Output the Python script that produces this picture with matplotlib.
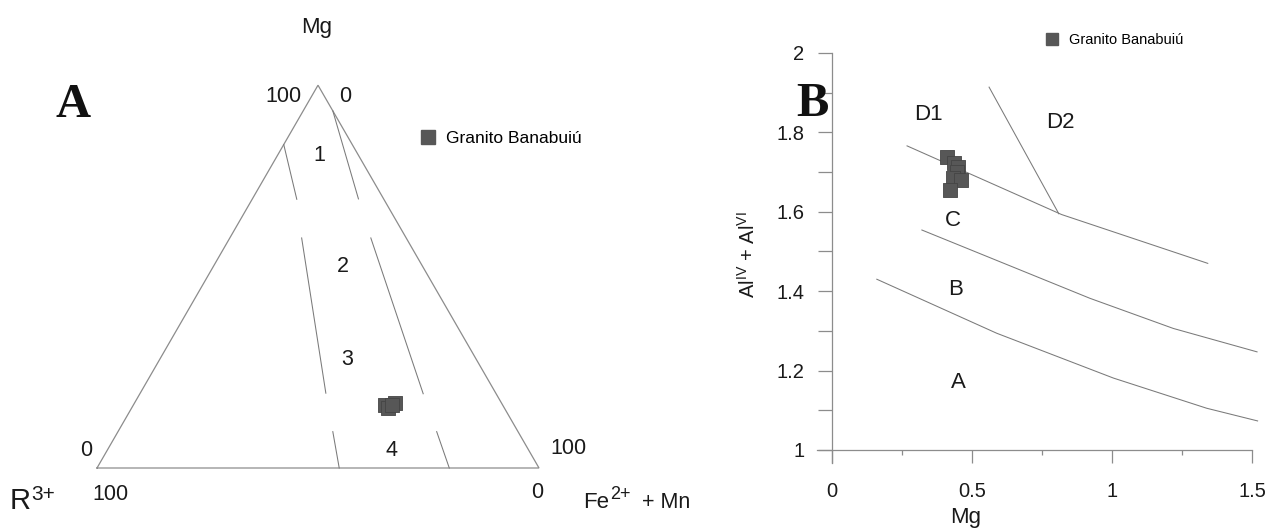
import numpy as np
import matplotlib
matplotlib.use('Agg')
import matplotlib.pyplot as plt
from matplotlib.lines import Line2D

plt.rcParams['font.family'] = ['Liberation Sans', 'DejaVu Sans']
plt.rcParams['mathtext.fontset'] = 'custom'
plt.rcParams['mathtext.rm'] = 'Liberation Sans'
plt.rcParams['mathtext.it'] = 'Liberation Sans:italic'
plt.rcParams['mathtext.bf'] = 'Liberation Sans:bold'

# ---------------- data: ternary (A) ----------------
series_name = 'Granito Banabuiú'
tern_mg = [16.5, 17.0, 15.7, 16.5]      # Mg (%)
tern_fe = [56.9, 58.9, 58.0, 58.5]      # Fe2+ + Mn (%)
tern_r3 = [26.6, 24.1, 26.3, 25.0]      # R3+ (%)

# field boundary segments (start Mg/Fe -> end Mg/Fe), in %
bnd_mg0 = [84.5, 60.1, 9.5, 93.3, 60.1, 9.5]
bnd_fe0 = [0.0, 16.25, 48.6, 6.7, 31.9, 72.1]
bnd_mg1 = [70.2, 19.55, 0.0, 70.3, 19.4, 0.0]
bnd_fe1 = [10.1, 42.0, 54.8, 24.0, 64.1, 79.7]

field_labels = ['1', '2', '3', '4']
field_mg = [81.7, 52.6, 28.3, 4.45]
field_fe = [9.4, 29.4, 42.4, 64.5]

# ---------------- data: Al vs Mg (B) ----------------
b_mg = [0.41, 0.435, 0.45, 0.445, 0.432, 0.462, 0.421]
b_al = [1.737, 1.723, 1.712, 1.700, 1.685, 1.680, 1.655]

ab_mg = [0.16, 0.588, 1.005, 1.338, 1.52]
ab_al = [1.43, 1.294, 1.181, 1.105, 1.073]
bc_mg = [0.321, 0.921, 1.219, 1.518]
bc_al = [1.554, 1.382, 1.306, 1.247]
cd_mg = [0.268, 0.82, 1.342]
cd_al = [1.766, 1.593, 1.470]
dd_mg = [0.561, 0.81]
dd_al = [1.914, 1.595]

zone_labels = ['D1', 'D2', 'C', 'B', 'A']
zone_mg = [0.343, 0.814, 0.432, 0.443, 0.45]
zone_al = [1.844, 1.826, 1.579, 1.403, 1.169]

x_ticks = [0, 0.5, 1, 1.5]
x_ticklabels = ['0', '0.5', '1', '1.5']
y_ticks = [1, 1.2, 1.4, 1.6, 1.8, 2]
y_ticklabels = ['1', '1.2', '1.4', '1.6', '1.8', '2']

W, H = 1270, 531
fig = plt.figure(figsize=(W / 100, H / 100), dpi=100)

MARK_FC = '#575757'
MARK_EC = '#454545'
LINE_C = '#7a7a7a'


def tern_xy(mg, fe):
    mg = np.asarray(mg, float) / 100.0
    fe = np.asarray(fe, float) / 100.0
    return fe + mg / 2.0, mg * np.sqrt(3) / 2.0


# ---------------- left ternary ----------------
axL = fig.add_axes([0, 0, 760 / W, 1])
axL.set_xlim(-97 / 442, 663 / 442)
axL.set_ylim(-63 / 442, 468 / 442)
axL.axis('off')


def px(x, y):
    return (x - 97) / 442, (468 - y) / 442


vx, vy = tern_xy([0, 0, 100, 0], [0, 100, 0, 0])
axL.plot(vx, vy, color='#8c8c8c', lw=0.9, solid_joinstyle='miter')

for m0, f0, m1, f1 in zip(bnd_mg0, bnd_fe0, bnd_mg1, bnd_fe1):
    lx, ly = tern_xy([m0, m1], [f0, f1])
    axL.plot(lx, ly, color=LINE_C, lw=0.75)

for lab, m, f in zip(field_labels, field_mg, field_fe):
    tx, ty = tern_xy(m, f)
    axL.text(tx, ty, lab, fontsize=15.5, ha='center', va='center', color='#1a1a1a')

sx, sy = tern_xy(tern_mg, tern_fe)
axL.scatter(sx, sy, marker='s', s=100, c=MARK_FC, edgecolors=MARK_EC,
            linewidths=0.6, zorder=3)

txt_kw = dict(color='#1a1a1a')
axL.text(*px(317, 27), 'Mg', fontsize=16, ha='center', va='center', **txt_kw)
axL.text(*px(283, 97), '100', fontsize=15.5, ha='center', va='center', **txt_kw)
axL.text(*px(345, 97), '0', fontsize=15.5, ha='center', va='center', **txt_kw)
axL.text(*px(86, 451), '0', fontsize=15.5, ha='center', va='center', **txt_kw)
axL.text(*px(110, 495), '100', fontsize=15.5, ha='center', va='center', **txt_kw)
axL.text(*px(568, 448), '100', fontsize=15.5, ha='center', va='center', **txt_kw)
axL.text(*px(537, 493), '0', fontsize=15.5, ha='center', va='center', **txt_kw)
# R3+ apex label (base letter + raised superscript)
axL.text(*px(10, 509), 'R', fontsize=21, ha='left', va='baseline', **txt_kw)
axL.text(*px(31, 500), '3+', fontsize=15, ha='left', va='baseline', **txt_kw)
# Fe2+ + Mn apex label
axL.text(*px(583, 508), 'Fe', fontsize=16, ha='left', va='baseline', **txt_kw)
axL.text(*px(610, 499), '2+', fontsize=13, ha='left', va='baseline', **txt_kw)
axL.text(*px(642, 508), '+ Mn', fontsize=15.5, ha='left', va='baseline', **txt_kw)
axL.text(*px(73, 105), 'A', fontsize=35, ha='center', va='center',
         family='Liberation Serif', weight='bold', color='#111111')

h = Line2D([], [], marker='s', ls='none', markersize=9.4, mfc=MARK_FC, mec=MARK_FC)
fig.legend([h], [series_name], loc='center left', bbox_to_anchor=(419 / W, (H - 138) / H),
           frameon=False, fontsize=12.5, handlelength=1.0, handletextpad=0.55,
           borderpad=0, borderaxespad=0)

# ---------------- right Al vs Mg ----------------
axR = fig.add_axes([817 / W, 68 / H, 435 / W, 410 / H])
axR.set_xlim(-0.0536, 1.5)
axR.set_ylim(0.967, 2.0)
for s in ['top', 'right']:
    axR.spines[s].set_visible(False)
axR.spines['left'].set_position(('data', 0))
axR.spines['bottom'].set_position(('data', 1))
for s in ['left', 'bottom']:
    axR.spines[s].set_color('#8c8c8c')
    axR.spines[s].set_linewidth(0.9)
axR.patch.set_alpha(0)

axR.set_xticks(x_ticks)
axR.set_xticklabels(x_ticklabels)
axR.set_xticks([0.25, 0.75, 1.25], minor=True)
axR.set_yticks(y_ticks)
axR.set_yticklabels(y_ticklabels)
axR.set_yticks([1.1, 1.3, 1.5, 1.7, 1.9], minor=True)
axR.tick_params(axis='x', which='major', direction='out', length=9.5, width=0.9,
                color='#8c8c8c', pad=13.5, labelsize=14.5, labelcolor='#1a1a1a')
axR.tick_params(axis='x', which='minor', direction='out', length=3.6, width=0.9,
                color='#8c8c8c')
axR.tick_params(axis='y', which='both', direction='out', length=10, width=0.9,
                color='#8c8c8c', pad=10, labelsize=14.5, labelcolor='#1a1a1a')

for xs, ys in [(ab_mg, ab_al), (bc_mg, bc_al), (cd_mg, cd_al), (dd_mg, dd_al)]:
    axR.plot(xs, ys, color=LINE_C, lw=0.75, clip_on=False)

for lab, m, a in zip(zone_labels, zone_mg, zone_al):
    axR.text(m, a, lab, fontsize=16, ha='center', va='center', color='#1a1a1a')

axR.scatter(b_mg, b_al, marker='s', s=100, c=MARK_FC, edgecolors=MARK_EC,
            linewidths=0.6, zorder=3, clip_on=False)

axR.text((966 - 817) / 435, (463 - 518) / 410, 'Mg', fontsize=16, ha='center',
         va='center', transform=axR.transAxes, color='#1a1a1a')
axR.text((748 - 817) / 435, (463 - 255) / 410,
         r'Al$^{\mathregular{IV}}$ + Al$^{\mathregular{VI}}$', fontsize=14.5,
         rotation=90, ha='center', va='center', transform=axR.transAxes, color='#1a1a1a')
axR.text((812 - 817) / 435, (463 - 104) / 410, 'B', fontsize=35, ha='center', va='center',
         family='Liberation Serif', weight='bold', color='#111111',
         transform=axR.transAxes)

h2 = Line2D([], [], marker='s', ls='none', markersize=8, mfc=MARK_FC, mec=MARK_FC)
fig.legend([h2], [series_name], loc='center left', bbox_to_anchor=(1044.7 / W, (H - 40) / H),
           frameon=False, fontsize=10.5, handlelength=1.0, handletextpad=0.66,
           borderpad=0, borderaxespad=0)

fig.savefig('out.png', dpi=100, facecolor='white')
